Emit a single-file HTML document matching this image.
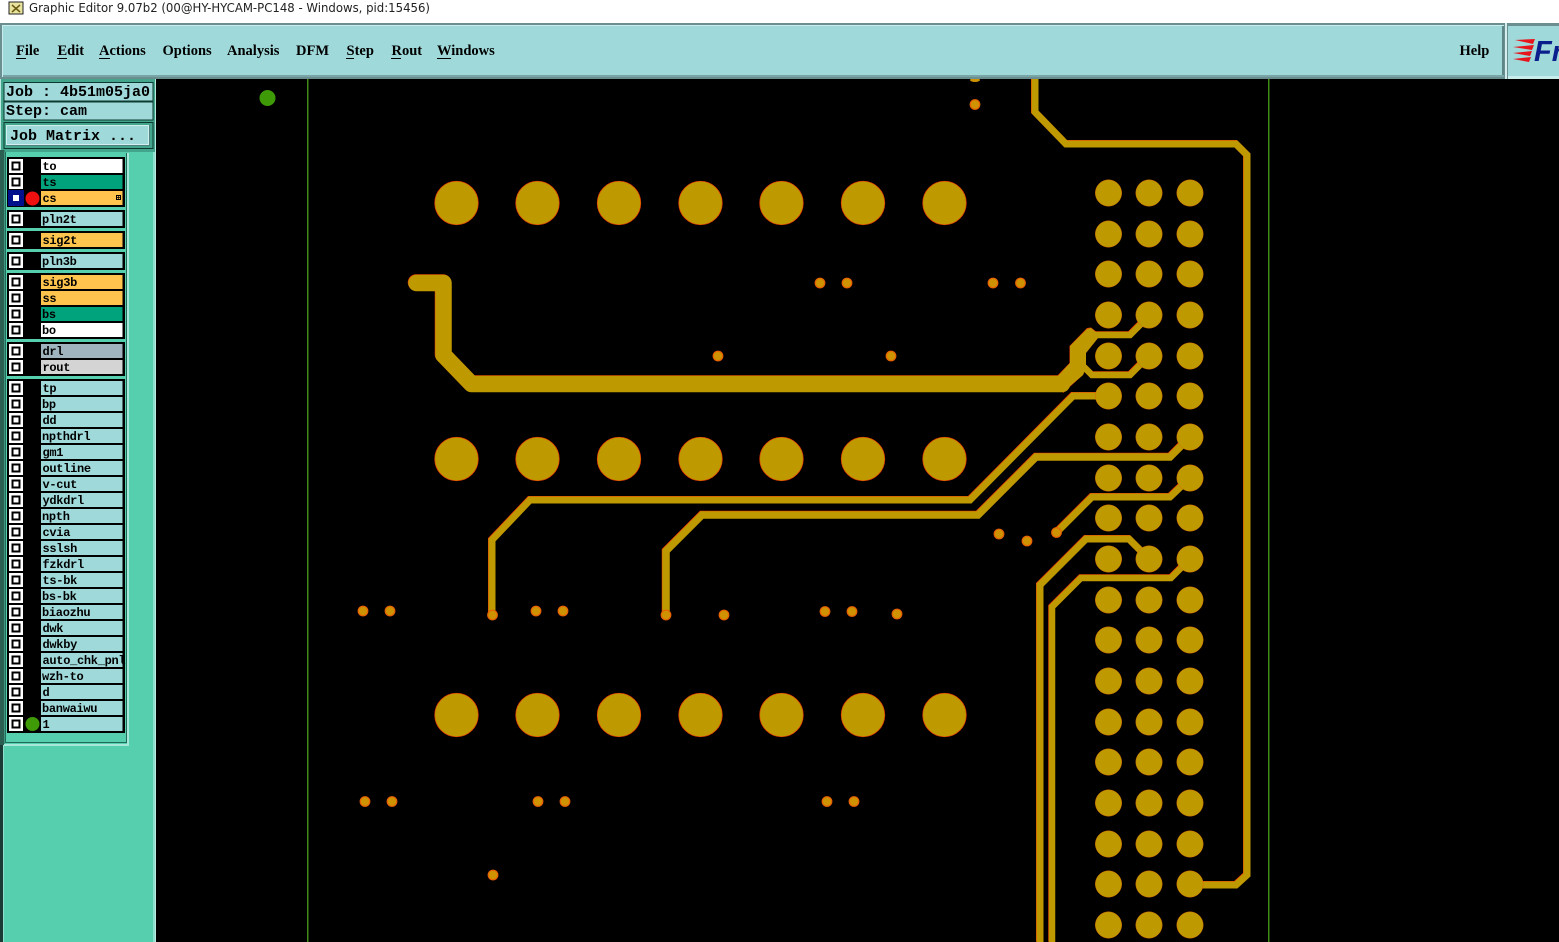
<!DOCTYPE html>
<html><head><meta charset="utf-8"><title>Graphic Editor</title>
<style>
html,body{margin:0;padding:0;background:#000;width:1559px;height:942px;overflow:hidden}
svg{display:block}
.m{font:bold 14.5px "Liberation Serif",serif;fill:#000}
.j{font:bold 15px "Liberation Mono",monospace;fill:#000}
.l{font:bold 12px "Liberation Mono",monospace;fill:#000;letter-spacing:-.3px}
</style></head><body>
<svg width="1559" height="942" viewBox="0 0 1559 942" xmlns="http://www.w3.org/2000/svg">
<defs>
<g id="cb"><rect x="9" y="-7" width="14" height="14" fill="#fff"/><rect x="11.500" y="-4.500" width="9" height="9" fill="#000"/><rect x="13.500" y="-2.500" width="5" height="5" fill="#fff"/></g>
<g id="bigrow"><circle cx="456.5" cy="0" r="21.8"/><circle cx="537.5" cy="0" r="21.8"/><circle cx="619" cy="0" r="21.8"/><circle cx="700.5" cy="0" r="21.8"/><circle cx="781.5" cy="0" r="21.8"/><circle cx="863" cy="0" r="21.8"/><circle cx="944.5" cy="0" r="21.8"/></g>
<g id="gr"><circle cx="1108.5" cy="0" r="13.2"/><circle cx="1149" cy="0" r="13.2"/><circle cx="1190" cy="0" r="13.2"/></g>
<g id="tr" fill="none" stroke-linejoin="miter">
<polyline stroke-width="7" points="1035,78 1035,112 1066,144 1236,144 1247,155 1247,875 1236,885 1190,885"/>
<polyline stroke-width="16.500" stroke-linecap="round" stroke-linejoin="round" points="416.5,283 443.5,283 443.5,355 471.5,384 1062,384"/>
<polyline stroke-width="6.500" points="1092,335 1130,335 1149,316"/>
<polyline stroke-width="6.500" points="1084,367 1092,375 1130,375 1149,356"/>
<polyline stroke-width="7" points="1108,396 1073,396 970,500 530,500 492,540 492,615"/>
<polyline stroke-width="7.500" points="1190,437 1170,457 1036,457 978,515 702,515 666,551 666,615"/>
<polyline stroke-width="7" points="1190,478 1170,497 1092,497 1056,533"/>
<polyline stroke-width="7" points="1149,559 1129,539 1086,539 1040,585 1040,942"/>
<polyline stroke-width="6.500" points="1190,559 1171,578 1081,578 1052,607 1052,942"/>
</g>
</defs>

<rect width="1559" height="942" fill="#000"/>
<rect x="307" y="78" width="1.500" height="864" fill="#3f8a14"/>
<rect x="1268" y="78" width="1.500" height="864" fill="#3f8a14"/>
<circle cx="267.5" cy="98" r="8" fill="#3f9a08"/>

<!-- traces -->
<use href="#tr" stroke="#e83a00" transform="translate(-.5,-.5)"/>
<polygon fill="#e83a00" points="1057,376 1069.500,363 1069.500,346 1087,328 1091,327.500 1098,333 1098,338 1086,353 1086,368 1083,375 1063,393"/>
<use href="#tr" stroke="#bf9900"/>
<polygon fill="#bf9900" points="1057,377 1070,363 1070,346 1087,329 1091,328 1097,333 1098,338 1086,353 1086,368 1083,375 1063,392"/>

<!-- big pads -->
<g fill="#bf9900" stroke="#e83a00" stroke-width=".7">
<use href="#bigrow" y="203"/><use href="#bigrow" y="459"/><use href="#bigrow" y="715"/>
</g>
<!-- connector pads -->
<g fill="#bf9900" stroke="#d56a00" stroke-width=".5">
<use href="#gr" y="193"/><use href="#gr" y="234"/><use href="#gr" y="274"/><use href="#gr" y="315"/><use href="#gr" y="356"/><use href="#gr" y="396"/><use href="#gr" y="437"/><use href="#gr" y="478"/><use href="#gr" y="518"/><use href="#gr" y="559"/><use href="#gr" y="600"/><use href="#gr" y="640"/><use href="#gr" y="681"/><use href="#gr" y="722"/><use href="#gr" y="762"/><use href="#gr" y="803"/><use href="#gr" y="844"/><use href="#gr" y="884"/><use href="#gr" y="925"/>
</g>
<!-- small pads -->
<g fill="#cf9200" stroke="#e86000" stroke-width="1.2">
<circle cx="975" cy="104.5" r="4.8"/><circle cx="820" cy="283" r="4.8"/><circle cx="847" cy="283" r="4.8"/><circle cx="993" cy="283" r="4.8"/><circle cx="1020.5" cy="283" r="4.8"/><circle cx="718" cy="356" r="4.8"/><circle cx="891" cy="356" r="4.8"/><circle cx="999" cy="534" r="4.8"/><circle cx="1027" cy="541" r="4.8"/><circle cx="1056.5" cy="532.5" r="4.8"/><circle cx="363" cy="611" r="4.8"/><circle cx="390" cy="611" r="4.8"/><circle cx="492.5" cy="615" r="4.8"/><circle cx="536" cy="611" r="4.8"/><circle cx="563" cy="611" r="4.8"/><circle cx="666" cy="615" r="4.8"/><circle cx="724" cy="615" r="4.8"/><circle cx="825" cy="611.5" r="4.8"/><circle cx="852" cy="611.5" r="4.8"/><circle cx="897" cy="614" r="4.8"/><circle cx="365" cy="801.5" r="4.8"/><circle cx="392" cy="801.5" r="4.8"/><circle cx="538" cy="801.5" r="4.8"/><circle cx="565" cy="801.5" r="4.8"/><circle cx="827" cy="801.5" r="4.8"/><circle cx="854" cy="801.5" r="4.8"/><circle cx="493" cy="875" r="4.8"/>
</g>
<ellipse cx="975" cy="80" rx="5" ry="2" fill="#cf9200"/>

<!-- title bar -->
<rect width="1559" height="24" fill="#fff"/>
<rect x="9" y="2" width="14" height="12" fill="#e8e4a0" stroke="#222"/>
<path d="M12 5l8 7M20 5l-8 7" stroke="#6a5a10" stroke-width="1.5"/>
<text x="29" y="12" font-family="DejaVu Sans,sans-serif" font-size="12" fill="#222" textLength="401" lengthAdjust="spacingAndGlyphs">Graphic Editor 9.07b2 (00@HY-HYCAM-PC148 - Windows, pid:15456)</text>

<!-- menu bar -->
<rect x="0" y="23" width="1559" height="56" fill="#6b8f90"/>
<rect x="2" y="25" width="1502" height="52" fill="#c9ecec"/>
<rect x="3" y="26" width="1500" height="50" fill="#9fd9da"/>
<rect x="1502" y="26" width="2" height="51" fill="#5f8586"/>
<rect x="3" y="75" width="1501" height="2" fill="#7aa5a6"/>
<rect x="1505" y="23" width="2" height="56" fill="#d4eeee"/>
<rect x="1508" y="26" width="51" height="50" fill="#9fd9da"/>
<rect x="1508" y="76" width="51" height="3" fill="#c9ecec"/>
<text class="m" x="16" y="55">File</text><rect x="16" y="58" width="10" height="1"/>
<text class="m" x="57.500" y="55">Edit</text><rect x="57" y="58" width="10" height="1"/>
<text class="m" x="99" y="55">Actions</text><rect x="99" y="58" width="11" height="1"/>
<text class="m" x="162.500" y="55">Options</text>
<text class="m" x="227" y="55">Analysis</text>
<text class="m" x="296" y="55">DFM</text>
<text class="m" x="346.500" y="55">Step</text><rect x="346" y="58" width="8" height="1"/>
<text class="m" x="391.500" y="55">Rout</text><rect x="391" y="58" width="10" height="1"/>
<text class="m" x="437" y="55">Windows</text><rect x="437" y="58" width="14" height="1"/>
<text class="m" x="1459.500" y="55">Help</text>
<g fill="#e8141c"><polygon points="1515,40 1535,39 1533,44"/><polygon points="1513,47 1534,45 1532,50"/><polygon points="1513,53 1532,51 1530,56"/><polygon points="1513,59 1531,57 1529,62"/></g>
<text x="1534" y="61" font-family="Liberation Sans,sans-serif" font-weight="bold" font-style="italic" font-size="29" fill="#0b1f8c">Fr</text>

<!-- left panel -->
<rect x="0" y="79" width="155" height="863" fill="#55cfae"/>
<rect x="155" y="79" width="1" height="863" fill="#b8e8e0"/>
<rect x="153" y="150" width="2" height="792" fill="#8fe0cc"/>
<rect x="0" y="79" width="155" height="73" fill="#42a58c"/>
<rect x="0" y="79" width="1" height="73" fill="#b8e8e0"/>
<rect x="0" y="150" width="4.500" height="595" fill="#2a5f52"/>
<rect x="0" y="745" width="3" height="197" fill="#1c3a35"/>
<rect x="3" y="745" width="1" height="197" fill="#8fe0cc"/>
<rect x="3.500" y="82" width="150" height="19.500" fill="#0d3a30"/>
<rect x="4.500" y="83" width="148" height="17.500" fill="#9fd9da"/>
<rect x="3.500" y="101.500" width="150" height="19" fill="#0d3a30"/>
<rect x="4.500" y="102.500" width="148" height="17" fill="#9fd9da"/>
<text class="j" x="6" y="96">Job : 4b51m05ja0</text>
<text class="j" x="6" y="115">Step: cam</text>
<rect x="3.500" y="122" width="150" height="27" fill="#0d3a30"/>
<rect x="4.500" y="123" width="148" height="25" fill="#42a58c"/>
<rect x="6" y="125" width="144" height="21" fill="#4f8082"/>
<rect x="6" y="125" width="143" height="20" fill="#d0f0ee"/>
<rect x="7" y="126" width="141" height="18" fill="#9fd9da"/>
<text class="j" x="10" y="140">Job Matrix ...</text>

<rect x="4.500" y="152" width="123" height="592" fill="#55cfae"/>
<rect x="5" y="152" width="1" height="591" fill="#1f6a58"/>
<rect x="5" y="742" width="122" height="1" fill="#1f6a58"/>
<rect x="126" y="153" width="1" height="590" fill="#1f6a58"/>
<rect x="127" y="153" width="2" height="592" fill="#a8e8da"/>
<rect x="4" y="744" width="125" height="2" fill="#a8e8da"/>

<!-- black groups -->
<g fill="#000">
<rect x="7" y="157" width="118" height="50"/>
<rect x="7" y="210" width="118" height="18"/>
<rect x="7" y="231" width="118" height="18"/>
<rect x="7" y="252" width="118" height="18"/>
<rect x="7" y="273" width="118" height="66"/>
<rect x="7" y="342" width="118" height="34"/>
<rect x="7" y="379" width="118" height="354"/>
</g>
<!-- label fills -->
<g fill="#9fd9da">
<rect x="41" y="159" width="81.500" height="14" fill="#fff"/>
<rect x="41" y="175" width="81.500" height="14" fill="#00a37c"/>
<rect x="41" y="191" width="81.500" height="14" fill="#ffc44d"/>
<rect x="41" y="212" width="81.500" height="14"/>
<rect x="41" y="233" width="81.500" height="14" fill="#ffc44d"/>
<rect x="41" y="254" width="81.500" height="14"/>
<rect x="41" y="275" width="81.500" height="14" fill="#ffc44d"/>
<rect x="41" y="291" width="81.500" height="14" fill="#ffc44d"/>
<rect x="41" y="307" width="81.500" height="14" fill="#00a37c"/>
<rect x="41" y="323" width="81.500" height="14" fill="#fff"/>
<rect x="41" y="344" width="81.500" height="14" fill="#9fb4bf"/>
<rect x="41" y="360" width="81.500" height="14" fill="#d4d4d4"/>
<rect x="41" y="381" width="81.500" height="14"/><rect x="41" y="397" width="81.500" height="14"/><rect x="41" y="413" width="81.500" height="14"/><rect x="41" y="429" width="81.500" height="14"/><rect x="41" y="445" width="81.500" height="14"/><rect x="41" y="461" width="81.500" height="14"/><rect x="41" y="477" width="81.500" height="14"/><rect x="41" y="493" width="81.500" height="14"/><rect x="41" y="509" width="81.500" height="14"/><rect x="41" y="525" width="81.500" height="14"/><rect x="41" y="541" width="81.500" height="14"/><rect x="41" y="557" width="81.500" height="14"/><rect x="41" y="573" width="81.500" height="14"/><rect x="41" y="589" width="81.500" height="14"/><rect x="41" y="605" width="81.500" height="14"/><rect x="41" y="621" width="81.500" height="14"/><rect x="41" y="637" width="81.500" height="14"/><rect x="41" y="653" width="81.500" height="14"/><rect x="41" y="669" width="81.500" height="14"/><rect x="41" y="685" width="81.500" height="14"/><rect x="41" y="701" width="81.500" height="14"/><rect x="41" y="717" width="81.500" height="14"/>
</g>
<!-- checkboxes -->
<use href="#cb" y="166"/><use href="#cb" y="182"/>
<rect x="8" y="190" width="16" height="16" fill="#00108c"/><rect x="13" y="195" width="6" height="6" fill="#fff"/>
<circle cx="32.500" cy="198.500" r="7" fill="#f01010"/>
<use href="#cb" y="219"/><use href="#cb" y="240"/><use href="#cb" y="261"/><use href="#cb" y="282"/><use href="#cb" y="298"/><use href="#cb" y="314"/><use href="#cb" y="330"/><use href="#cb" y="351"/><use href="#cb" y="367"/><use href="#cb" y="388"/><use href="#cb" y="404"/><use href="#cb" y="420"/><use href="#cb" y="436"/><use href="#cb" y="452"/><use href="#cb" y="468"/><use href="#cb" y="484"/><use href="#cb" y="500"/><use href="#cb" y="516"/><use href="#cb" y="532"/><use href="#cb" y="548"/><use href="#cb" y="564"/><use href="#cb" y="580"/><use href="#cb" y="596"/><use href="#cb" y="612"/><use href="#cb" y="628"/><use href="#cb" y="644"/><use href="#cb" y="660"/><use href="#cb" y="676"/><use href="#cb" y="692"/><use href="#cb" y="708"/><use href="#cb" y="724"/>
<circle cx="32.500" cy="724" r="7" fill="#3f9a08"/>
<rect x="116.500" y="195.500" width="4" height="4" fill="none" stroke="#000"/><path d="M118.500 195.500v4M116.500 197.500h4" stroke="#000" stroke-width=".7"/>
<!-- labels -->
<text class="l" x="42.500" y="170">to</text>
<text class="l" x="42.500" y="186">ts</text>
<text class="l" x="42.500" y="202">cs</text>
<text class="l" x="42" y="223">pln2t</text>
<text class="l" x="42.500" y="244">sig2t</text>
<text class="l" x="42" y="265">pln3b</text>
<text class="l" x="42.500" y="286">sig3b</text>
<text class="l" x="42.500" y="302">ss</text>
<text class="l" x="42" y="318">bs</text>
<text class="l" x="42" y="334">bo</text>
<text class="l" x="42.500" y="355">drl</text>
<text class="l" x="42.500" y="371">rout</text>
<text class="l" x="42.500" y="392">tp</text>
<text class="l" x="42" y="408">bp</text>
<text class="l" x="42.500" y="424">dd</text>
<text class="l" x="42" y="440">npthdrl</text>
<text class="l" x="42.500" y="456">gm1</text>
<text class="l" x="42.500" y="472">outline</text>
<text class="l" x="42.500" y="488">v-cut</text>
<text class="l" x="42.500" y="504">ydkdrl</text>
<text class="l" x="42" y="520">npth</text>
<text class="l" x="42.500" y="536">cvia</text>
<text class="l" x="42.500" y="552">sslsh</text>
<text class="l" x="42.500" y="568">fzkdrl</text>
<text class="l" x="42.500" y="584">ts-bk</text>
<text class="l" x="42" y="600">bs-bk</text>
<text class="l" x="42" y="616">biaozhu</text>
<text class="l" x="42.500" y="632">dwk</text>
<text class="l" x="42.500" y="648">dwkby</text>
<text class="l" x="42.500" y="664">auto_chk_pnl</text>
<text class="l" x="42" y="680">wzh-to</text>
<text class="l" x="42.500" y="696">d</text>
<text class="l" x="42" y="712">banwaiwu</text>
<text class="l" x="42.500" y="728">1</text>
<rect x="122.500" y="653" width="2.500" height="14" fill="#000"/>
</svg>
</body></html>
